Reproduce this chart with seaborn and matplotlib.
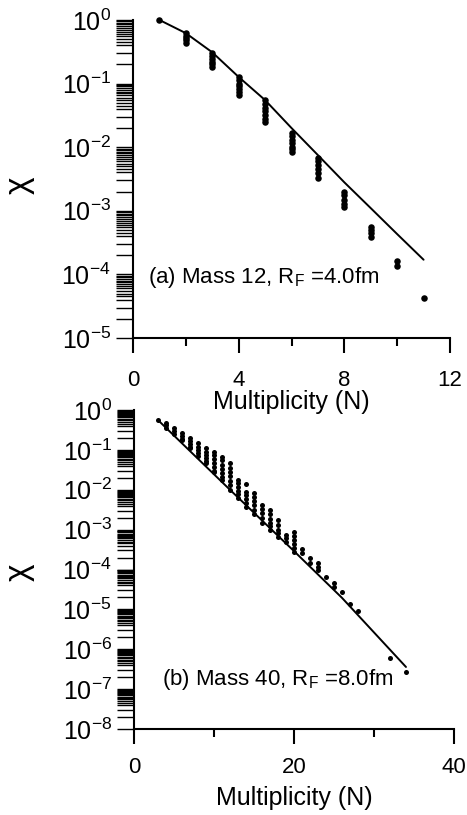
import numpy as np
import pandas as pd
import matplotlib
matplotlib.use('Agg')
import matplotlib.pyplot as plt
import matplotlib.ticker as mticker
import seaborn as sns

# Panel (a): Mass 12, R_F = 4.0 fm
top_n = [1, 2, 3, 4, 5, 6, 7, 8, 9, 10, 11]
top_chi = [
    [1.0],
    [0.62, 0.56, 0.52, 0.48, 0.44],
    [0.30, 0.27, 0.24, 0.22, 0.20, 0.18],
    [0.126, 0.115, 0.10, 0.092, 0.083, 0.075, 0.066],
    [0.055, 0.048, 0.042, 0.037, 0.032, 0.028, 0.025],
    [0.017, 0.015, 0.013, 0.0115, 0.010, 0.0092, 0.0085],
    [6.8e-3, 6.0e-3, 5.2e-3, 4.5e-3, 3.9e-3, 3.3e-3],
    [2.0e-3, 1.8e-3, 1.5e-3, 1.3e-3, 1.15e-3],
    [5.6e-4, 5.0e-4, 4.4e-4, 3.9e-4],
    [1.6e-4, 1.35e-4],
    [4.2e-5],
]
top_line_n = [1, 2, 3, 4, 5, 6, 7, 8, 9, 10, 11]
top_line_chi = [1.0, 0.62, 0.31, 0.127, 0.055, 0.02, 7.5e-3, 2.8e-3, 1.1e-3, 4.3e-4, 1.7e-4]

# Panel (b): Mass 40, R_F = 8.0 fm
bot_n = [3, 4, 5, 6, 7, 8, 9, 10, 11, 12, 13, 14, 15, 16, 17, 18, 19, 20,
         21, 22, 23, 24, 25, 26, 27, 28, 32, 34]
bot_chi = [
    [0.56],
    [0.47, 0.42, 0.36],
    [0.35, 0.30, 0.25],
    [0.26, 0.22, 0.19, 0.18],
    [0.195, 0.165, 0.14, 0.12, 0.11],
    [0.145, 0.12, 0.10, 0.085, 0.071],
    [0.11, 0.09, 0.075, 0.062, 0.052, 0.046],
    [0.091, 0.075, 0.06, 0.048, 0.038, 0.030, 0.028],
    [0.068, 0.055, 0.043, 0.034, 0.027, 0.021, 0.018],
    [0.046, 0.036, 0.028, 0.022, 0.017, 0.013, 0.010],
    [0.018, 0.015, 0.012, 0.0095, 0.0078, 0.0063],
    [0.014, 0.0089, 0.0072, 0.0058, 0.0047, 0.0038],
    [0.0083, 0.0066, 0.0052, 0.0041, 0.0032, 0.0025],
    [0.0042, 0.0033, 0.0026, 0.0020, 0.0015],
    [0.0032, 0.0025, 0.0019, 0.0015, 0.0012, 0.0010],
    [0.0017, 0.0013, 0.0010, 0.00082, 0.00066],
    [0.00074, 0.00062, 0.0005],
    [0.00089, 0.00071, 0.00055, 0.00043, 0.00034, 0.00028],
    [0.00032, 0.00026],
    [0.000195, 0.000148],
    [0.000148, 0.000118, 0.0001],
    [6.6e-5],
    [4.6e-5, 3.6e-5],
    [2.7e-5],
    [1.4e-5],
    [8.9e-6],
    [6e-7],
    [2.7e-7],
]
bot_line_n = [3, 12, 20, 26, 34]
bot_line_chi = [0.56, 1.0e-2, 2.9e-4, 1.95e-5, 3.6e-7]


def to_frame(ns, groups):
    rows = [(n, v) for n, vals in zip(ns, groups) for v in vals]
    return pd.DataFrame(rows, columns=['N', 'chi'])


sns.set_theme(style='ticks')
plt.rcParams['font.family'] = ['Liberation Sans', 'DejaVu Sans']
plt.rcParams['mathtext.fontset'] = 'custom'
plt.rcParams['mathtext.rm'] = 'Liberation Sans'
plt.rcParams['mathtext.it'] = 'Liberation Sans:italic'
plt.rcParams['axes.unicode_minus'] = False
plt.rcParams['axes.linewidth'] = 1.5
plt.rcParams['text.color'] = 'black'
plt.rcParams['axes.labelcolor'] = 'black'
plt.rcParams['axes.edgecolor'] = 'black'
plt.rcParams['xtick.color'] = 'black'
plt.rcParams['ytick.color'] = 'black'

fig = plt.figure(figsize=(4.67, 8.15), dpi=100)
ax1 = fig.add_axes([0.2848, 0.5853, 0.6788, 0.3902])
ax2 = fig.add_axes([0.2869, 0.1055, 0.6852, 0.3914])
# keep the upper x label from being hidden behind the lower panel
ax2.patch.set_visible(False)

minor_subs = [2, 3, 4, 4.5, 5, 5.5, 6, 6.5, 7, 7.5, 8, 8.5, 9, 9.5]

panels = [
    (ax1, to_frame(top_n, top_chi), top_line_n, top_line_chi, (0, 12), (1e-5, 1),
     [0, 4, 8, 12], [2, 6, 10], '(a) Mass 12, R$_\\mathrm{F}$ =4.0fm', (0.55, 9e-5), 12, 22),
    (ax2, to_frame(bot_n, bot_chi), bot_line_n, bot_line_chi, (0, 40), (1e-8, 1),
     [0, 20, 40], [10, 30], '(b) Mass 40, R$_\\mathrm{F}$ =8.0fm', (3.5, 1.7e-7), 9, 13),
]

for ax, df, ln, lc, xl, yl, xmaj, xmin, label, tpos, xpad, pt_size in panels:
    sns.lineplot(x=ln, y=lc, ax=ax, color='black', linewidth=1.4,
                 sort=False, estimator=None)
    sns.scatterplot(data=df, x='N', y='chi', ax=ax, color='black', s=pt_size,
                    linewidth=0, legend=False, clip_on=False)
    ax.set_yscale('log')
    ax.set_xlim(*xl)
    ax.set_ylim(*yl)
    ax.xaxis.set_major_locator(mticker.FixedLocator(xmaj))
    ax.xaxis.set_minor_locator(mticker.FixedLocator(xmin))
    ax.yaxis.set_major_locator(mticker.LogLocator(base=10, numticks=20))
    ax.yaxis.set_minor_locator(mticker.LogLocator(base=10, subs=minor_subs, numticks=20))
    ax.yaxis.set_minor_formatter(mticker.NullFormatter())
    ax.tick_params(axis='x', which='major', length=11, width=1.5, direction='out',
                   labelsize=16, pad=xpad, color='black', labelcolor='black')
    ax.tick_params(axis='x', which='minor', length=6, width=1.5, direction='out', color='black')
    ax.tick_params(axis='y', which='both', length=12, width=1.0, direction='out',
                   labelsize=18, pad=4, color='black', labelcolor='black')
    ax.set_xlabel('Multiplicity (N)', fontsize=18, color='black')
    ax.set_ylabel('χ', fontsize=24, rotation=90, color='black')
    ax.text(tpos[0], tpos[1], label, fontsize=16, va='center', ha='left', color='black')
    sns.despine(ax=ax)

ax1.xaxis.set_label_coords(0.5, -0.165)
ax2.xaxis.set_label_coords(0.5, -0.18)
ax1.yaxis.set_label_coords(-0.31, 0.48)
ax2.yaxis.set_label_coords(-0.31, 0.49)

fig.savefig('out.png', dpi=100)
